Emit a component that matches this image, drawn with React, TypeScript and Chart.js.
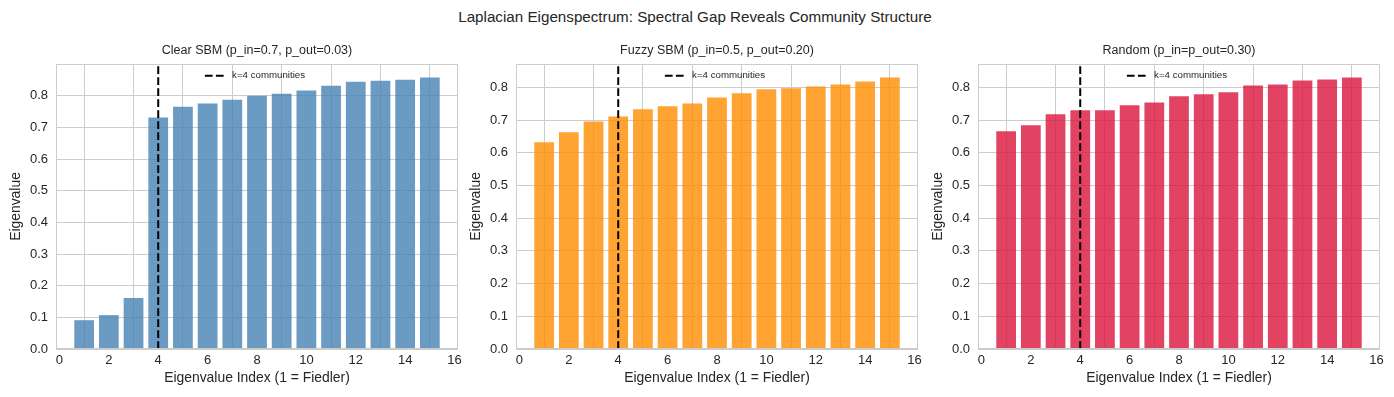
import React, { useEffect, useRef } from "react";
import { Chart, registerables } from "chart.js";

Chart.register(...registerables);

// ---- Data ----
const eigenIndices = [1, 2, 3, 4, 5, 6, 7, 8, 9, 10, 11, 12, 13, 14, 15];
const clearSBM = [0.091, 0.107, 0.161, 0.731, 0.765, 0.775, 0.787, 0.8, 0.806, 0.816, 0.831, 0.844, 0.847, 0.85, 0.857];
const fuzzySBM = [0.632, 0.663, 0.696, 0.711, 0.733, 0.742, 0.751, 0.769, 0.782, 0.794, 0.797, 0.803, 0.809, 0.818, 0.83];
const randomGraph = [0.666, 0.684, 0.718, 0.73, 0.73, 0.745, 0.754, 0.773, 0.779, 0.785, 0.806, 0.809, 0.821, 0.824, 0.83];
const xTicks = [0, 2, 4, 6, 8, 10, 12, 14, 16];
const yTicks = [0, 0.1, 0.2, 0.3, 0.4, 0.5, 0.6, 0.7, 0.8];
const kCommunities = 4;

const suptitle = "Laplacian Eigenspectrum: Spectral Gap Reveals Community Structure";
const panelTitles = [
  "Clear SBM (p_in=0.7, p_out=0.03)",
  "Fuzzy SBM (p_in=0.5, p_out=0.20)",
  "Random (p_in=p_out=0.30)",
];
const xLabel = "Eigenvalue Index (1 = Fiedler)";
const yLabel = "Eigenvalue";
const legendLabel = "k=4 communities";

const FONT = '"Liberation Sans", Arial, sans-serif';
const TEXT = "#262626";
const GRID = "#cccccc";

const framePlugin = {
  id: "frameAndLegend",
  afterDatasetsDraw(chart: any) {
    const { ctx, chartArea: a } = chart;
    ctx.save();
    ctx.strokeStyle = GRID;
    ctx.lineWidth = 1;
    ctx.strokeRect(Math.round(a.left) + 0.5, Math.round(a.top) + 0.5, Math.round(a.width) - 1, Math.round(a.height) - 1);
    ctx.restore();
  },
  afterDraw(chart: any) {
    const { ctx, chartArea: a } = chart;
    ctx.save();
    ctx.font = `9.7px ${FONT}`;
    const tw = ctx.measureText(legendLabel).width;
    const handle = 19.4;
    const gap = 7.8;
    const total = handle + gap + tw;
    const cx = (a.left + a.right) / 2;
    const x0 = cx - total / 2 - 2;
    const y = a.top + 11.7;
    ctx.strokeStyle = "#000000";
    ctx.lineWidth = 2;
    ctx.setLineDash([7.7, 3.3]);
    ctx.beginPath();
    ctx.moveTo(x0, y);
    ctx.lineTo(x0 + handle, y);
    ctx.stroke();
    ctx.setLineDash([]);
    ctx.fillStyle = TEXT;
    ctx.textBaseline = "middle";
    ctx.textAlign = "left";
    ctx.fillText(legendLabel, x0 + handle + gap, y);
    ctx.restore();
  },
};

type PanelProps = {
  values: number[];
  color: string;
  title: string;
  yMax: number;
  left: number;
};

function Panel({ values, color, title, yMax, left }: PanelProps) {
  const ref = useRef<HTMLCanvasElement | null>(null);
  useEffect(() => {
    if (!ref.current) return;
    const chart = new Chart(ref.current, {
      type: "bar",
      data: {
        datasets: [
          {
            type: "line",
            data: [
              { x: kCommunities, y: 0 },
              { x: kCommunities, y: yMax },
            ],
            borderColor: "#000000",
            borderWidth: 2,
            borderDash: [7.7, 3.3],
            pointRadius: 0,
            fill: false,
            order: 0,
          } as any,
          {
            type: "bar",
            data: eigenIndices.map((x, i) => ({ x, y: values[i] })),
            backgroundColor: color,
            borderWidth: 0,
            barPercentage: 0.8,
            categoryPercentage: 1.0,
            order: 1,
          } as any,
        ],
      },
      options: {
        animation: false,
        responsive: false,
        devicePixelRatio: 1,
        layout: { padding: { left: 0, right: 10, top: 0, bottom: 0 } },
        plugins: {
          legend: { display: false },
          tooltip: { enabled: false },
          title: {
            display: true,
            fullSize: false,
            text: title,
            color: TEXT,
            font: { family: FONT, size: 12.5, weight: "normal" },
            padding: { top: 5, bottom: 6 },
          },
        },
        scales: {
          x: {
            type: "linear",
            min: -0.14,
            max: 16.14,
            offset: false,
            grid: { color: GRID, lineWidth: 1, drawTicks: false },
            border: { display: false },
            ticks: {
              autoSkip: false,
              maxRotation: 0,
              color: TEXT,
              font: { family: FONT, size: 13 },
              padding: 4,
              callback: (v: any) => String(v),
            },
            afterBuildTicks: (axis: any) => {
              axis.ticks = xTicks.map((v) => ({ value: v }));
            },
            afterFit: (axis: any) => {
              axis.height = 45;
              axis.paddingLeft = 0;
              axis.paddingRight = 0;
            },
            title: {
              display: true,
              text: xLabel,
              color: TEXT,
              font: { family: FONT, size: 13.9 },
              padding: { top: 0, bottom: 7 },
            },
          },
          y: {
            type: "linear",
            min: 0,
            max: yMax,
            grid: { color: GRID, lineWidth: 1, drawTicks: false },
            border: { display: false },
            ticks: {
              autoSkip: false,
              color: TEXT,
              font: { family: FONT, size: 13 },
              padding: 8,
              callback: (v: any) => Number(v).toFixed(1),
            },
            afterBuildTicks: (axis: any) => {
              axis.ticks = yTicks.map((v) => ({ value: v }));
            },
            afterFit: (axis: any) => {
              axis.width = 50;
              axis.paddingTop = 0;
              axis.paddingBottom = 0;
            },
            title: {
              display: true,
              text: yLabel,
              color: TEXT,
              font: { family: FONT, size: 13.9 },
              padding: { top: 2, bottom: 0 },
            },
          },
        },
      } as any,
      plugins: [framePlugin],
    });
    return () => chart.destroy();
  }, [values, color, title, yMax]);

  return (
    <canvas
      ref={ref}
      width={462}
      height={356}
      style={{ position: "absolute", left: left - 50, top: 38, width: 462, height: 356 }}
    />
  );
}

export default function App() {
  return (
    <div
      style={{
        position: "absolute",
        left: 0,
        top: 0,
        width: 1394,
        height: 397,
        background: "#ffffff",
        overflow: "hidden",
      }}
    >
      <div
        style={{
          position: "absolute",
          left: -2,
          top: 7,
          width: 1394,
          textAlign: "center",
          fontFamily: FONT,
          fontSize: 15.2,
          lineHeight: "20px",
          color: TEXT,
        }}
      >
        {suptitle}
      </div>
      <Panel values={clearSBM} color="rgba(70,130,180,0.8)" title={panelTitles[0]} yMax={0.9} left={56} />
      <Panel values={fuzzySBM} color="rgba(255,140,0,0.8)" title={panelTitles[1]} yMax={0.8715} left={516} />
      <Panel values={randomGraph} color="rgba(220,20,60,0.8)" title={panelTitles[2]} yMax={0.8715} left={978} />
    </div>
  );
}
